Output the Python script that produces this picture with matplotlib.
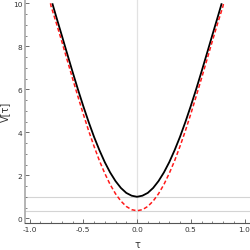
import matplotlib
matplotlib.use("Agg")
import matplotlib.pyplot as plt
from matplotlib.ticker import MultipleLocator

# values (curves are symmetric around tau = 0)
TAU_BLACK = [-0.788, -0.75, -0.70, -0.65, -0.60, -0.55, -0.50, -0.45, -0.40, -0.35,
             -0.30, -0.25, -0.20, -0.15, -0.10, -0.05, 0.0,
             0.05, 0.10, 0.15, 0.20, 0.25, 0.30, 0.35, 0.40, 0.45,
             0.50, 0.55, 0.60, 0.65, 0.70, 0.75, 0.788]
V_BLACK = [10.0, 9.35, 8.51, 7.66, 6.82, 6.00, 5.22, 4.48, 3.79, 3.17,
           2.61, 2.13, 1.73, 1.41, 1.18, 1.05, 1.00,
           1.05, 1.18, 1.41, 1.73, 2.13, 2.61, 3.17, 3.79, 4.48,
           5.22, 6.00, 6.82, 7.66, 8.51, 9.35, 10.0]

TAU_RED = [-0.805, -0.80, -0.75, -0.70, -0.65, -0.60, -0.55, -0.50, -0.45, -0.40,
           -0.35, -0.30, -0.25, -0.20, -0.15, -0.10, -0.05, 0.0,
           0.05, 0.10, 0.15, 0.20, 0.25, 0.30, 0.35, 0.40, 0.45,
           0.50, 0.55, 0.60, 0.65, 0.70, 0.75, 0.80, 0.805]
V_RED = [10.0, 9.87, 9.07, 8.23, 7.37, 6.51, 5.67, 4.85, 4.07, 3.35,
         2.68, 2.09, 1.57, 1.14, 0.80, 0.55, 0.40, 0.35,
         0.40, 0.55, 0.80, 1.14, 1.57, 2.09, 2.68, 3.35, 4.07,
         4.85, 5.67, 6.51, 7.37, 8.23, 9.07, 9.87, 10.0]

H_LINES = [1.0, 0.35]
X_TICKS = [-1.0, -0.5, 0.0, 0.5, 1.0]
Y_TICKS = [0, 2, 4, 6, 8, 10]

plt.rcParams['font.family'] = ['DejaVu Sans']

fig = plt.figure(figsize=(2.5, 2.51), dpi=100)
ax = fig.add_axes([25 / 250, 27 / 251, 225 / 250, 224 / 251])

# guide lines
ax.axvline(0.0, color='#e2e2e2', lw=0.9, zorder=1)
for h in H_LINES:
    ax.axhline(h, color='#d4d4d4', lw=0.8, zorder=1)

ax.plot(TAU_BLACK, V_BLACK, color='black', lw=1.3, zorder=3, solid_capstyle='butt')
ax.plot(TAU_RED, V_RED, color='#ff1a1a', lw=1.1, ls=(0, (2.6, 1.6)), zorder=4)

ax.set_xlim(-1.042, 1.051)
ax.set_ylim(-0.22, 10.2)

ax.set_xticks(X_TICKS)
ax.set_xticklabels(['-1.0', '-0.5', '0.0', '0.5', '1.0'])
ax.set_yticks(Y_TICKS)
ax.xaxis.set_minor_locator(MultipleLocator(0.1))
ax.yaxis.set_minor_locator(MultipleLocator(0.5))

for s in ['top', 'right']:
    ax.spines[s].set_visible(False)
ax.spines['left'].set_color('#a8a8a8')
ax.spines['left'].set_linewidth(1.2)
ax.spines['bottom'].set_color('#555555')
ax.spines['bottom'].set_linewidth(0.8)

ax.tick_params(axis='both', which='major', direction='in', length=3, width=0.6,
               colors='#555555', labelsize=5.3, labelcolor='#333333', pad=2)
ax.tick_params(axis='both', which='minor', direction='in', length=1.6, width=0.5,
               colors='#555555')

ax.set_xlabel('τ', fontsize=7, color='#333333', labelpad=5)
ax.set_ylabel('V[τ]', fontsize=7, color='#333333', labelpad=2)

fig.savefig('out.png', dpi=100)
